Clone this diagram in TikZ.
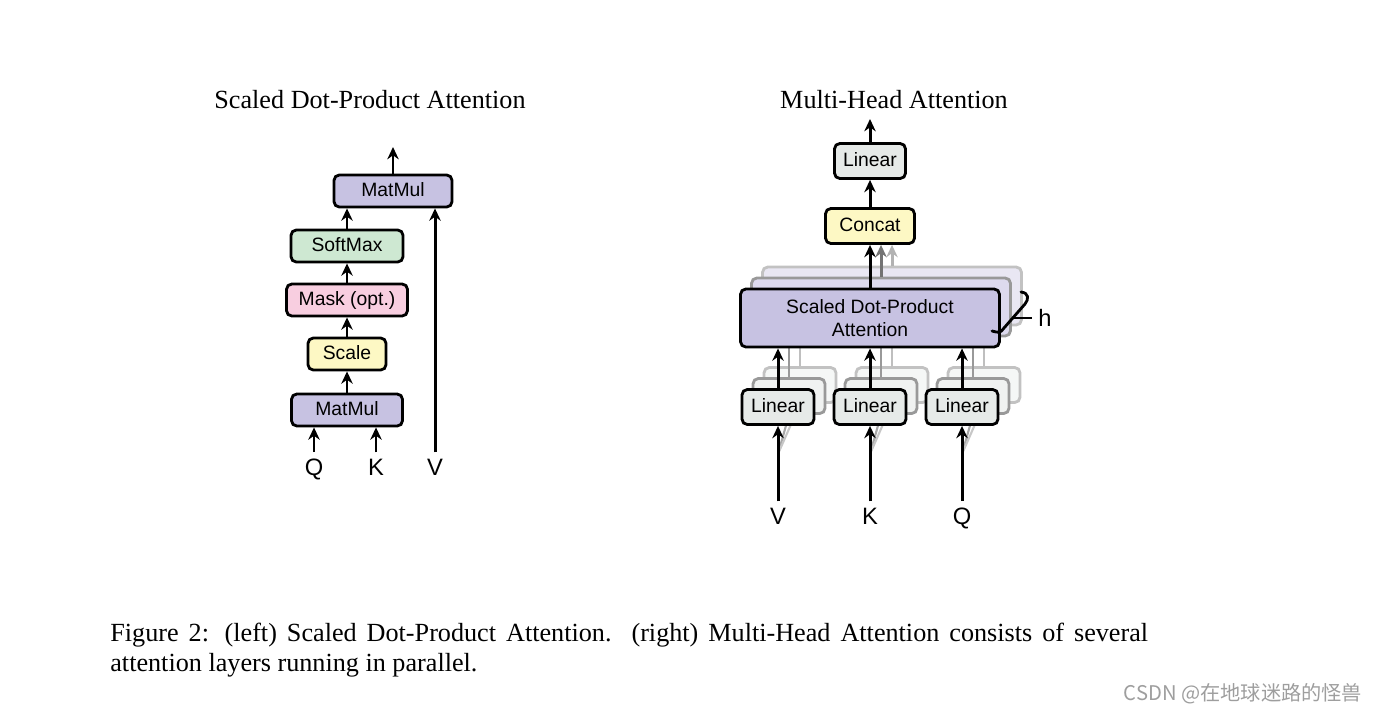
\documentclass[tikz,border=0pt]{standalone}
\usepackage{fontspec}
\setmainfont{Liberation Serif}
\newfontfamily\boxfont{Liberation Sans}
\newfontfamily\cjkfont{Noto Sans CJK SC}
\usetikzlibrary{calc,positioning,arrows.meta}
\pgfdeclarelayer{back}
\pgfsetlayers{back,main}
\definecolor{mulpurple}{RGB}{199,194,226}
\definecolor{softgreen}{RGB}{206,232,210}
\definecolor{maskpink}{RGB}{248,206,224}
\definecolor{scaleyellow}{RGB}{253,248,196}
\definecolor{lingrey}{RGB}{230,234,232}
\tikzset{
  blk/.style={draw,line width=1.6pt,rectangle,rounded corners=3pt,minimum height=0.64cm,inner sep=0pt,font=\boxfont\fontsize{11}{13}\selectfont},
  tag/.style={blk,text height=1.55ex,text depth=.2ex},
  ghost/.style={blk,draw=black!40,fill=#1!60!white},
  ghostb/.style={blk,draw=black!24,fill=#1!40!white},
  flow/.style={line width=1.7pt,-{Stealth[length=7pt,width=6.5pt]}},
  lbl/.style={anchor=base,font=\boxfont\fontsize{13.5}{15}\selectfont},
  title/.style={font=\fontsize{14.9}{17}\selectfont}
}

\begin{document}
\begin{tikzpicture}[x=0.02cm,y=-0.02cm]
  \useasboundingbox (0,0) rectangle (1375,714);

  \node [title] at (370,100) (ltitle) {Scaled Dot-Product Attention};
  \node [title] at (894,100) (rtitle) {Multi-Head Attention};

  % left: scaled dot-product attention
  \node [tag,fill=mulpurple,minimum width=2.22cm] at (347,410) (mm1) {MatMul};
  \node [tag,fill=scaleyellow,minimum width=1.56cm] at (347,354) (scale) {Scale};
  \node [tag,fill=maskpink,minimum width=2.42cm] at (347,300) (mask) {Mask (opt.)};
  \node [tag,fill=softgreen,minimum width=2.24cm] at (347,246) (soft) {SoftMax};
  \node [tag,fill=mulpurple,minimum width=2.36cm] at (393,191) (mm2) {MatMul};

  \node [lbl] at (314,475) (q) {Q};
  \node [lbl] at (376,475) (k) {K};
  \node [lbl] at (435,475) (v) {V};
  \coordinate (out1) at (393,147);

  \draw [flow] (q.north) -- (q |- mm1.south);
  \draw [flow] (k.north) -- (k |- mm1.south);
  \draw [flow] (v.north) -- (v |- mm2.south);
  \draw [flow] (mm1) -- (scale);
  \draw [flow] (scale) -- (mask);
  \draw [flow] (mask) -- (soft);
  \draw [flow] (soft.north) -- (soft.north |- mm2.south);
  \draw [flow] (mm2) -- (out1);

  % right: multi-head attention
  \node [tag,fill=lingrey,minimum width=1.42cm,minimum height=0.7cm] at (870,161) (lin) {Linear};
  \node [tag,fill=scaleyellow,minimum width=1.78cm,minimum height=0.7cm] at (870,226) (concat) {Concat};
  \node [blk,fill=mulpurple,minimum width=5.18cm,minimum height=1.16cm,align=center] at (870,318) (sdpa) {Scaled Dot-Product\\Attention};

  \node [tag,fill=lingrey,minimum width=1.44cm,minimum height=0.7cm] at (778,407) (linV) {Linear};
  \node [tag,fill=lingrey,minimum width=1.44cm,minimum height=0.7cm] at (870,407) (linK) {Linear};
  \node [tag,fill=lingrey,minimum width=1.44cm,minimum height=0.7cm] at (962,407) (linQ) {Linear};

  \node [lbl] at (778,524) (vv) {V};
  \node [lbl] at (870,524) (kk) {K};
  \node [lbl] at (962,524) (qq) {Q};
  \coordinate (out2) at (870,119);

  \begin{pgfonlayer}{back}
    \node [ghostb=mulpurple,minimum width=5.18cm,minimum height=1.16cm] at (892,296) (sdpa3) {};
    \node [ghost=mulpurple,minimum width=5.18cm,minimum height=1.16cm] at (881,307) (sdpa2) {};
    \foreach \n in {V,K,Q} {
      \node [ghostb=lingrey,minimum width=1.44cm,minimum height=0.7cm] at ($(lin\n)+(22,-22)$) (lin\n3) {};
      \node [ghost=lingrey,minimum width=1.44cm,minimum height=0.7cm] at ($(lin\n)+(11,-11)$) (lin\n2) {};
      \draw [line width=1.6pt,black!40] (lin\n2.north) -- (lin\n2.north |- sdpa.south);
      \draw [line width=1.6pt,black!25] (lin\n3.north) -- (lin\n3.north |- sdpa.south);
      \draw [line width=1.2pt,black!35] ($(lin\n.south)+(0,28)$) -- (lin\n2.south);
      \draw [line width=1.2pt,black!22] ($(lin\n.south)+(0,28)$) -- (lin\n3.south);
    }
    \draw [flow,black!55] (sdpa2.north) -- (sdpa2.north |- concat.south);
    \draw [flow,black!30] (sdpa3.north) -- (sdpa3.north |- concat.south);
  \end{pgfonlayer}

  \draw [flow] (vv.north) -- (vv |- linV.south);
  \draw [flow] (kk.north) -- (kk |- linK.south);
  \draw [flow] (qq.north) -- (qq |- linQ.south);
  \draw [flow] (linV) -- (linV |- sdpa.south);
  \draw [flow] (linK) -- (linK |- sdpa.south);
  \draw [flow] (linQ) -- (linQ |- sdpa.south);
  \draw [flow] (sdpa) -- (concat);
  \draw [flow] (concat) -- (lin);
  \draw [flow] (lin) -- (out2);

  % head count brace
  \coordinate (bra) at (1021,292);
  \coordinate (brb) at (992,331);
  \coordinate (brtip) at (1013,318);
  \draw [line width=1.6pt,line cap=round] (bra) .. controls (1029,293) and (1029,299) .. (1025,304) -- (1004,328) .. controls (1000,333) .. (brb);
  \node [lbl,anchor=center] at (1045,318) (h) {h};
  \draw [line width=1.2pt] (brtip) -- (h);

  \node [anchor=north west,inner sep=0pt,text width=20.76cm,align=justify,font=\fontsize{14.9}{16.8}\selectfont] at (110,623) (caption) {Figure 2: (left) Scaled Dot-Product Attention.\ \ (right) Multi-Head Attention consists of several\linebreak attention layers running in parallel.};

  \node [text=black!38,font=\cjkfont\fontsize{11.5}{13}\selectfont] at (1243,694) (mark) {CSDN @在地球迷路的怪兽};
\end{tikzpicture}
\end{document}
